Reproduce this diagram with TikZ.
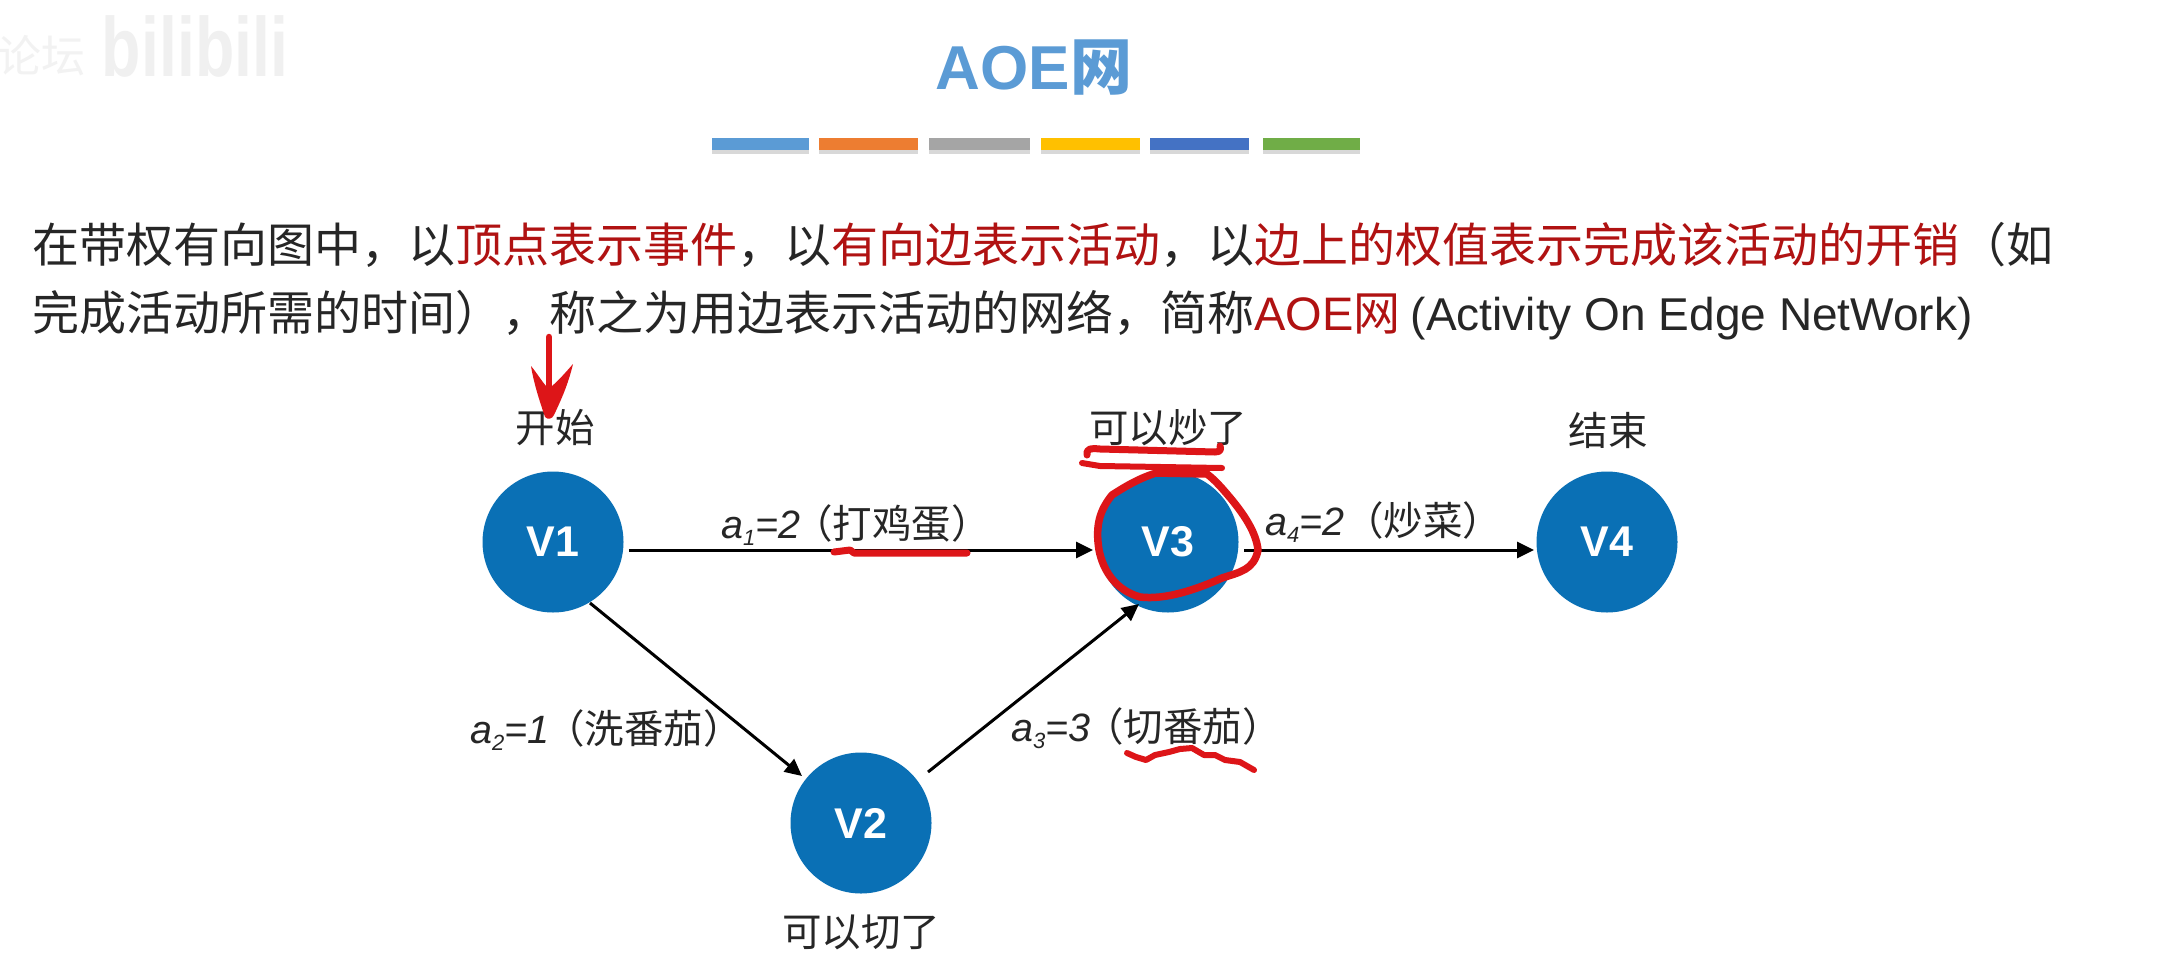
\documentclass[tikz,border=0pt]{standalone}
\usepackage{fontspec}
\setmainfont{Liberation Sans}
\newfontfamily\cjk{Noto Sans CJK SC}
\usetikzlibrary{arrows.meta}
\definecolor{nodeblue}{HTML}{0A70B5}
\definecolor{titleblue}{HTML}{5B9BD5}
\definecolor{parared}{HTML}{B01212}
\definecolor{inkred}{HTML}{DD1518}
\newcommand{\rd}[1]{\textcolor{parared}{#1}}
\newcommand{\sbs}[1]{\raisebox{-0.18em}{\fontsize{22}{22}\selectfont\textit{#1}}}
\newcommand{\lat}{\fontspec{Liberation Sans}}
\tikzset{
  x=1pt,y=-1pt,
  vertex/.style={circle,fill=nodeblue,minimum size=141pt,inner sep=0pt,text=white,font=\bfseries\fontsize{43}{43}\selectfont},
  captext/.style={inner sep=0pt,text=black!85,font=\cjk\fontsize{39.5}{40}\selectfont},
  edgeline/.style={draw=black,line width=3pt,-{Triangle[length=17pt,width=16pt]}},
  para/.style={anchor=base west,inner sep=0pt,text=black!85,font=\cjk\fontsize{47}{47}\selectfont},
  ink/.style={draw=inkred,line width=7pt,line cap=round,line join=round},
}
\begin{document}
\begin{tikzpicture}
\useasboundingbox (0,0) rectangle (2159,977);
\fill[white] (0,0) rectangle (2159,977);
% watermark
\begin{scope}
\clip (0,0) rectangle (2159,977);
\node[inner sep=0pt,text=black!6,font=\bfseries\fontsize{70}{70}\selectfont] (wm) at (195,46) {\scalebox{0.92}[1.2]{bilibili}};
\node[inner sep=0pt,text=black!5,font=\cjk\fontsize{44}{44}\selectfont] (wm2) at (42,56) {论坛};
\end{scope}
% title
\node[inner sep=0pt,text=titleblue,font=\bfseries\fontsize{62}{62}\selectfont] (title) at (1034,68) {AOE{\cjk\bfseries 网}};
% bars
\foreach \a/\b/\c in {712/809/5B9BD5,819/918/ED7D31,929/1030/A5A5A5,1041/1140/FFC000,1150/1249/4472C4,1263/1360/70AD47}{
  \definecolor{barc}{HTML}{\c}
  \fill[black!30,opacity=.5] (\a,150) rectangle (\b,154);
  \fill[barc] (\a,138) rectangle (\b,150);
}
% paragraph
\node[para] (p1) at (32,262) {在带权有向图中，以\rd{顶点表示事件}，以\rd{有向边表示活动}，以\rd{边上的权值表示完成该活动的开销}（如};
\node[para] (p2) at (32,330) {完成活动所需的时间），称之为用边表示活动的网络，简称\rd{{\lat AOE}网} {\lat\fontsize{46}{46}\selectfont(Activity On Edge NetWork)}};
% vertices
\node[vertex] (V1) at (553,542) {V1};
\node[vertex] (V2) at (861,823) {V2};
\node[vertex] (V3) at (1168,542) {V3};
\node[vertex] (V4) at (1607,542) {V4};
% captions
\node[captext] (c1) at (555,428) {开始};
\node[captext] (c3) at (1168,428) {可以炒了};
\node[captext] (c4) at (1608,430) {结束};
\node[captext] (c2) at (861,932) {可以切了};
% connector ends
\coordinate (e1s) at (629,550); \coordinate (e1t) at (1093,550);
\coordinate (e2s) at (590,603); \coordinate (e2t) at (802,776);
\coordinate (e3s) at (928,772); \coordinate (e3t) at (1139,604);
\coordinate (e4s) at (1244,550); \coordinate (e4t) at (1534,550);
\draw[edgeline] (e1s) -- (e1t);
\draw[edgeline] (e2s) -- (e2t);
\draw[edgeline] (e3s) -- (e3t);
\draw[edgeline] (e4s) -- (e4t);
% labels
\node[captext,anchor=west] (l1) at (721,525) {{\lat\itshape a\sbs{1}=2}\hspace{-7pt}（打鸡蛋）};
\node[captext,anchor=west] (l2) at (470,730) {{\lat\itshape a\sbs{2}=1}\hspace{-4pt}（洗番茄）};
\node[captext,anchor=west] (l3) at (1011,728) {{\lat\itshape a\sbs{3}=3}\hspace{-6pt}（切番茄）};
\node[captext,anchor=west] (l4) at (1265,522) {{\lat\itshape a\sbs{4}=2}（炒菜）};
% red ink
\draw[ink,line width=6.5pt] (549,337) -- (549,412);
\fill[inkred] (531,366) .. controls (534,385) and (541,405) .. (545,417) .. controls (548,420) and (552,419) .. (554,415) .. controls (561,400) and (568,385) .. (573,364) .. controls (566,372) and (559,380) .. (552,386) -- (546,386) .. controls (541,380) and (536,372) .. (531,366) -- cycle;
\draw[ink,line width=7pt] (1087,455) .. controls (1086,449) and (1090,448) .. (1100,449) -- (1215,452) .. controls (1221,452) and (1221,449) .. (1220,446);
\draw[ink,line width=6pt] (1082,463) -- (1100,466) -- (1222,468);
\draw[ink,line width=7.5pt] (1153,474) .. controls (1135,480) and (1120,490) .. (1112,495) .. controls (1100,510) and (1095,525) .. (1099,550) .. controls (1103,570) and (1115,590) .. (1140,597) .. controls (1165,600) and (1195,590) .. (1222,578) .. controls (1240,572) and (1254,570) .. (1258,550) .. controls (1256,530) and (1240,510) .. (1232,500) .. controls (1222,488) and (1215,480) .. (1207,474) -- (1155,473);
\draw[ink,line width=7pt] (834,552) -- (850,550) -- (854,553) -- (967,553);
\draw[ink,line width=6pt] (1127,753) -- (1136,757) -- (1146,760) -- (1155,755) -- (1169,752) -- (1180,749) -- (1192,748) -- (1204,755) -- (1215,755) -- (1225,760) -- (1240,762) -- (1254,770);
\end{tikzpicture}
\end{document}
